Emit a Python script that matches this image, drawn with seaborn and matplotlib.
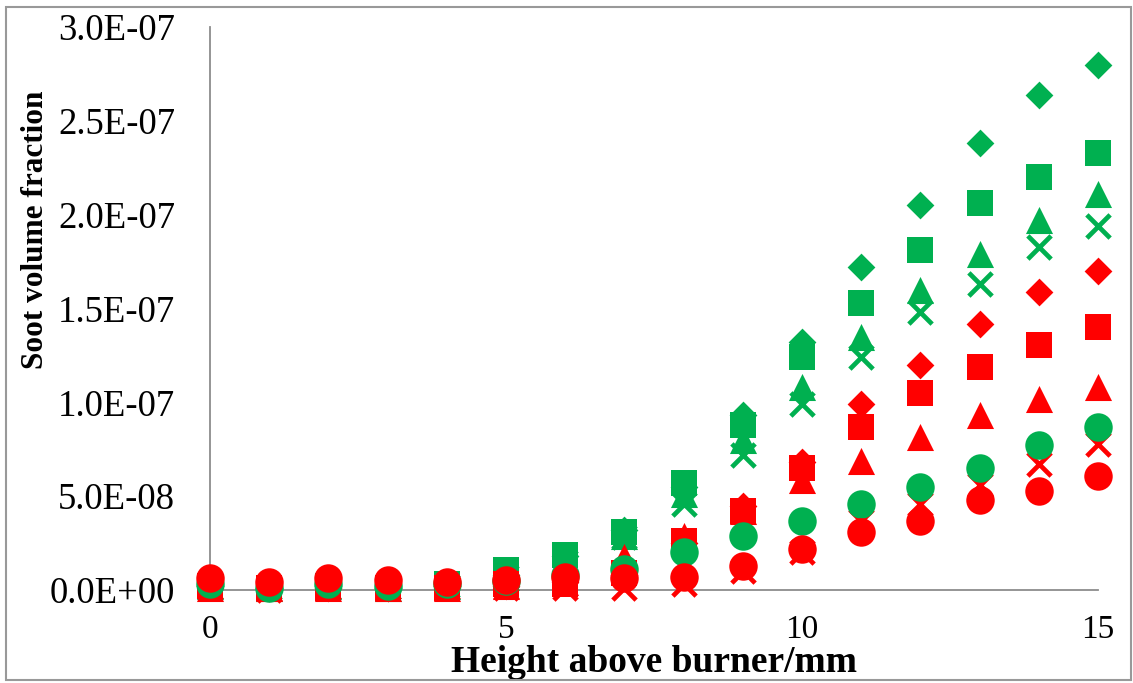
import matplotlib
matplotlib.use("Agg")
import matplotlib.pyplot as plt
import matplotlib.patches as mpatches
from matplotlib.ticker import FuncFormatter
import seaborn as sns
import pandas as pd
import numpy as np

height_mm = list(range(16))

# soot volume fraction values (units of 1e-8)
green_diamond = [0.2, 0.1, 0.2, 0.1, 0.2, 0.8, 1.8, 3.2, 5.5, 9.3, 13.2, 17.2, 20.5, 23.8, 26.4, 28.0]
green_square = [0.2, 0.1, 0.2, 0.1, 0.3, 1.05, 1.85, 3.1, 5.7, 8.8, 12.4, 15.3, 18.1, 20.6, 22.0, 23.3]
green_triangle = [0.2, 0.1, 0.2, 0.1, 0.2, 0.7, 1.6, 2.9, 5.1, 8.0, 10.8, 13.5, 16.0, 17.9, 19.7, 21.1]
green_cross = [0.1, 0.1, 0.1, 0.1, 0.2, 0.7, 1.5, 2.8, 4.6, 7.2, 9.9, 12.4, 14.8, 16.3, 18.3, 19.4]
green_circle = [0.3, 0.1, 0.3, 0.2, 0.3, 0.5, 0.8, 1.1, 2.0, 2.9, 3.7, 4.6, 5.5, 6.5, 7.7, 8.7]
red_diamond = [0.2, 0.1, 0.1, 0.1, 0.2, 0.2, 0.4, 0.8, 2.5, 4.5, 6.8, 9.9, 12.0, 14.2, 15.9, 17.0]
red_square = [0.2, 0.1, 0.1, 0.1, 0.1, 0.3, 0.3, 0.9, 2.6, 4.2, 6.5, 8.7, 10.5, 11.9, 13.05, 14.0]
red_triangle = [0.1, 0.1, 0.1, 0.1, 0.1, 0.2, 0.4, 1.75, 2.9, 4.2, 5.85, 6.9, 8.15, 9.3, 10.2, 10.8]
red_cross = [0.1, 0.0, 0.1, 0.1, 0.1, 0.1, 0.1, 0.1, 0.3, 1.0, 2.0, 3.7, 4.6, 5.6, 6.7, 7.8]
red_circle = [0.65, 0.45, 0.65, 0.55, 0.45, 0.55, 0.7, 0.65, 0.7, 1.3, 2.2, 3.1, 3.7, 4.8, 5.3, 6.1]

x_ticks = [0, 5, 10, 15]
y_ticks = [0, 5e-8, 1e-7, 1.5e-7, 2e-7, 2.5e-7, 3e-7]

GREEN = "#00B050"
RED = "#FF0000"

# drawing order (later on top)
series = [
    ("green_diamond", green_diamond, GREEN, "D", 200),
    ("green_square", green_square, GREEN, "s", 350),
    ("green_triangle", green_triangle, GREEN, "^", 380),
    ("green_cross", green_cross, GREEN, "x", 280),
    ("red_diamond", red_diamond, RED, "D", 200),
    ("red_square", red_square, RED, "s", 350),
    ("red_triangle", red_triangle, RED, "^", 380),
    ("red_cross", red_cross, RED, "x", 280),
    ("green_circle", green_circle, GREEN, "o", 420),
    ("red_circle", red_circle, RED, "o", 420),
]

sns.set_theme(style="white")
plt.rcParams["font.family"] = ["Liberation Serif", "DejaVu Serif"]

fig = plt.figure(figsize=(11.33, 6.83), dpi=100)
ax = fig.add_axes([210 / 1133, 93 / 683, (1098 - 210) / 1133, (590 - 27) / 683])

for name, vals, col, mk, s in series:
    df = pd.DataFrame({"x": height_mm, "y": np.array(vals) * 1e-8})
    if mk == "x":
        sns.scatterplot(data=df, x="x", y="y", ax=ax, marker=mk, color=col,
                        s=s, linewidth=3.4, clip_on=False, zorder=3)
    else:
        sns.scatterplot(data=df, x="x", y="y", ax=ax, marker=mk, color=col,
                        s=s, linewidth=0, clip_on=False, zorder=3)

ax.set_xlim(0, 15)
ax.set_ylim(0, 3e-7)
ax.set_xticks(x_ticks)
ax.set_yticks(y_ticks)
ax.yaxis.set_major_formatter(FuncFormatter(lambda v, p: f"{v:.1E}"))
ax.xaxis.set_major_formatter(FuncFormatter(lambda v, p: f"{int(round(v))}"))

for sp in ["top", "right"]:
    ax.spines[sp].set_visible(False)
for sp in ["left", "bottom"]:
    ax.spines[sp].set_color("#8C8C8C")
    ax.spines[sp].set_linewidth(1.3)
    ax.spines[sp].set_zorder(1)

ax.tick_params(axis="both", which="major", direction="out", color="#8C8C8C",
               length=6, width=1.3, labelcolor="black")
ax.tick_params(axis="y", pad=19, labelsize=26.5)
ax.tick_params(axis="x", pad=12, labelsize=24)
ax.grid(False)

ax.set_xlabel("Height above burner/mm", fontsize=27, fontweight="bold", color="black")
ax.set_ylabel("Soot volume fraction", fontsize=22.5, fontweight="bold", color="black")
ax.xaxis.set_label_coords(0.5, -0.097)
ax.yaxis.set_label_coords(-0.180, 0.64)

# outer chart border
fig.patches.append(mpatches.Rectangle((6 / 1133, 3 / 683), 1125 / 1133, 673 / 683,
                                      transform=fig.transFigure, fill=False,
                                      edgecolor="#999999", linewidth=1.5))

fig.savefig("out.png", dpi=100)
